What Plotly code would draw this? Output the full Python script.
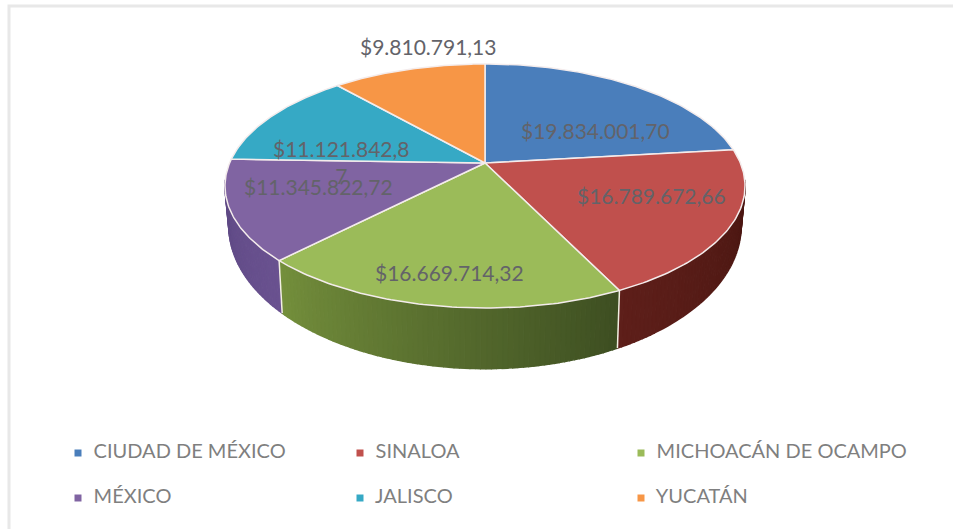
import numpy as np
import plotly.graph_objects as go

estados = ['CIUDAD DE MÉXICO', 'SINALOA', 'MICHOACÁN DE OCAMPO', 'MÉXICO', 'JALISCO', 'YUCATÁN']
montos = [19834001.70, 16789672.66, 16669714.32, 11345822.72, 11121842.87, 9810791.13]
etiquetas = ['$19.834.001,70', '$16.789.672,66', '$16.669.714,32', '$11.345.822,72', '$11.121.842,8<br>7', '$9.810.791,13']
colores = ['#4a7ebb', '#c0504d', '#9bbb59', '#8064a2', '#36a9c5', '#f79646']

# side colour at the start and the end of each slice, only the front ones show
lados = {1: ('#4a1712', '#5e1f1a'), 2: ('#3e4f22', '#748f3c'), 3: ('#6a5290', '#5f4a85')}

# pie geometry in pixels, the page is 953x529
cx, cy = 485, 163
a, b, k = 255.4, 117.7, 0.1885
fondo_d, fondo_s = 36, 1.17
fondo_x = 0.985

etiqueta_x = [595, 651, 449, 318, 341, 428]
etiqueta_y = [130, 195, 272, 186, 162, 46]
leyenda_x = [78, 360, 641, 78, 360, 641]
leyenda_y = [453, 453, 453, 498, 498, 498]


def arriba(theta):
    # perspective view of the unit circle, theta clockwise from the top
    u, v = np.sin(theta), -np.cos(theta)
    w = 1 - k * v
    return cx + a * u / w, cy + b * v / w


def abajo(theta):
    x, y = arriba(theta)
    return cx + fondo_x * (x - cx), cy + fondo_d + fondo_s * (y - cy)


def mezcla(c1, c2, t):
    rgb1 = [int(c1[i:i + 2], 16) for i in (1, 3, 5)]
    rgb2 = [int(c2[i:i + 2], 16) for i in (1, 3, 5)]
    return 'rgb(%d,%d,%d)' % tuple(p + (q - p) * t for p, q in zip(rgb1, rgb2))


cortes = np.cumsum([0] + montos) / sum(montos) * 2 * np.pi
inicio_lado, fin_lado = np.radians(98), np.radians(262)

fig = go.Figure()

# side wall, cut in thin strips to get the gradient
for i, (c1, c2) in lados.items():
    t0, t1 = max(cortes[i], inicio_lado), min(cortes[i + 1], fin_lado)
    pasos = np.linspace(t0, t1, int(np.degrees(t1 - t0)) + 2)
    for j in range(len(pasos) - 1):
        arco = np.linspace(pasos[j], pasos[j + 1], 3)
        xa, ya = arriba(arco)
        xb, yb = abajo(arco[::-1])
        color = mezcla(c1, c2, j / (len(pasos) - 2))
        fig.add_trace(go.Scatter(
            x=np.r_[xa, xb], y=np.r_[ya, yb], mode='lines', fill='toself',
            fillcolor=color, line=dict(color=color, width=1.5),
            hoverinfo='skip', showlegend=False
        ))

# light seams between the side walls
for corte in cortes[2:4]:
    xa, ya = arriba(corte)
    xb, yb = abajo(corte)
    fig.add_trace(go.Scatter(
        x=[xa, xb], y=[ya, yb], mode='lines', line=dict(color='#f2efe2', width=1.5),
        hoverinfo='skip', showlegend=False
    ))

# top of the pie
for i, color in enumerate(colores):
    arco = np.linspace(cortes[i], cortes[i + 1], 80)
    x, y = arriba(arco)
    fig.add_trace(go.Scatter(
        x=np.r_[cx, x, cx], y=np.r_[cy, y, cy], mode='lines', fill='toself',
        fillcolor=color, line=dict(color='#f4ecec', width=1.5),
        hoverinfo='skip', showlegend=False
    ))

# value labels
for texto, x, y in zip(etiquetas, etiqueta_x, etiqueta_y):
    fig.add_annotation(
        x=x, y=y, text=texto, showarrow=False, align='center',
        font=dict(family='Lato', size=21, color='#636369')
    )

# legend, plotly's own cannot space the rows this far apart
fig.add_trace(go.Scatter(
    x=leyenda_x, y=leyenda_y, mode='markers+text', text=['  ' + e for e in estados],
    textposition='middle right', textfont=dict(family='Lato', size=20, color='#7f7f7f'),
    marker=dict(symbol='square', size=7, color=colores),
    hoverinfo='skip', showlegend=False, cliponaxis=False
))

fig.add_shape(
    type='rect', x0=9, y0=6, x1=970, y1=545,
    line=dict(color='#e8e8e8', width=3), layer='below'
)

fig.update_layout(
    width=953,
    height=529,
    margin=dict(l=0, r=0, t=0, b=0),
    paper_bgcolor='white',
    plot_bgcolor='white',
    showlegend=False
)
fig.update_xaxes(range=[0, 953], visible=False)
fig.update_yaxes(range=[529, 0], visible=False)

fig.write_html("out.html", config=dict(displayModeBar=False), post_script="document.body.style.margin='0';")
